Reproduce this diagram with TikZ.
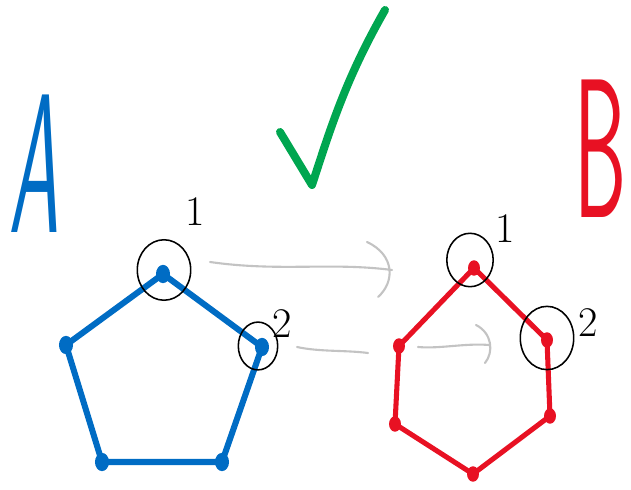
\documentclass[tikz,border=0pt]{standalone}
\usetikzlibrary{shapes.geometric}
\definecolor{sketchblue}{RGB}{0,108,196}
\definecolor{sketchred}{RGB}{232,17,35}
\definecolor{sketchgreen}{RGB}{0,166,80}
\definecolor{sketchgrey}{RGB}{195,195,195}

\begin{document}
\begin{tikzpicture}[x=0.025cm, y=-0.025cm,
        bdot/.style={ellipse, fill=sketchblue, minimum width=10pt, minimum height=13pt, inner sep=0pt},
        rdot/.style={ellipse, fill=sketchred, minimum width=8.5pt, minimum height=11pt, inner sep=0pt},
        bedge/.style={draw=sketchblue, line width=4.3pt, line cap=round, line join=round},
        redge/.style={draw=sketchred, line width=3.6pt, line cap=round, line join=round},
        ring/.style={ellipse, draw=black, line width=1.1pt, inner sep=0pt},
        mapto/.style={draw=sketchgrey, line width=1.5pt, line cap=round},
        num/.style={font=\fontsize{30}{30}\selectfont, inner sep=0pt},
        letter/.style={font=\fontsize{141}{141}\selectfont\sffamily, inner sep=0pt}
    ]
        \useasboundingbox (0,0) rectangle (631,490);

        % Letters
        \node[letter, text=sketchblue] (la) at (34,164) {\scalebox{0.4}[1]{\slshape A}};
        \node[letter, text=sketchred] (lb) at (601,149) {\scalebox{0.42}[1]{B}};

        % Check mark
        \draw[sketchgreen, line width=5.7pt, line cap=round, line join=round]
            (280,132) -- (312,185) .. controls (330,130) and (345,80) .. (385,10);

        % Pentagon A
        \node[bdot] (a1) at (163,274) {};
        \node[bdot] (a2) at (262,347) {};
        \node[bdot] (a3) at (222,462) {};
        \node[bdot] (a4) at (102,462) {};
        \node[bdot] (a5) at (66,345) {};
        \draw[bedge] (a1.center) -- (a2.center) -- (a3.center) -- (a4.center) -- (a5.center) -- cycle;

        % Hexagon B
        \node[rdot] (b1) at (474,268) {};
        \node[rdot] (b2) at (547,340) {};
        \node[rdot] (b3) at (550,416) {};
        \node[rdot] (b4) at (473,474) {};
        \node[rdot] (b5) at (395,424) {};
        \node[rdot] (b6) at (399,346) {};
        \draw[redge] (b1.center) -- (b2.center) -- (b3.center) -- (b4.center) -- (b5.center) -- (b6.center) -- cycle;

        % Rings and numbers
        \node[ring, minimum width=38pt, minimum height=43pt] (ra1) at (164,270) {};
        \node[ring, minimum width=28pt, minimum height=34pt] (ra2) at (258,346) {};
        \node[ring, minimum width=33pt, minimum height=38pt] (rb1) at (470,260) {};
        \node[ring, minimum width=38pt, minimum height=45pt] (rb2) at (547,338) {};
        \node[num] (na1) at (195,212) {1};
        \node[num] (na2) at (282,324) {2};
        \node[num] (nb1) at (505,229) {1};
        \node[num] (nb2) at (588,323) {2};

        % Grey arrows, heads drawn as loose arcs
        \coordinate (m1s) at (210,262);
        \coordinate (m1e) at (392,270);
        \coordinate (m2s) at (297,347);
        \coordinate (m2m) at (368,353);
        \coordinate (m2n) at (418,347);
        \coordinate (m2e) at (489,345);
        \draw[mapto] (m1s) .. controls (280,272) and (330,262) .. (m1e)
            (367,242) .. controls (395,255) and (395,282) .. (378,297);
        \draw[mapto] (m2s) .. controls (320,352) and (345,350) .. (m2m);
        \draw[mapto] (m2n) .. controls (440,349) and (465,343) .. (m2e)
            (476,325) .. controls (492,333) and (494,352) .. (485,363);
    \end{tikzpicture}
\end{document}
